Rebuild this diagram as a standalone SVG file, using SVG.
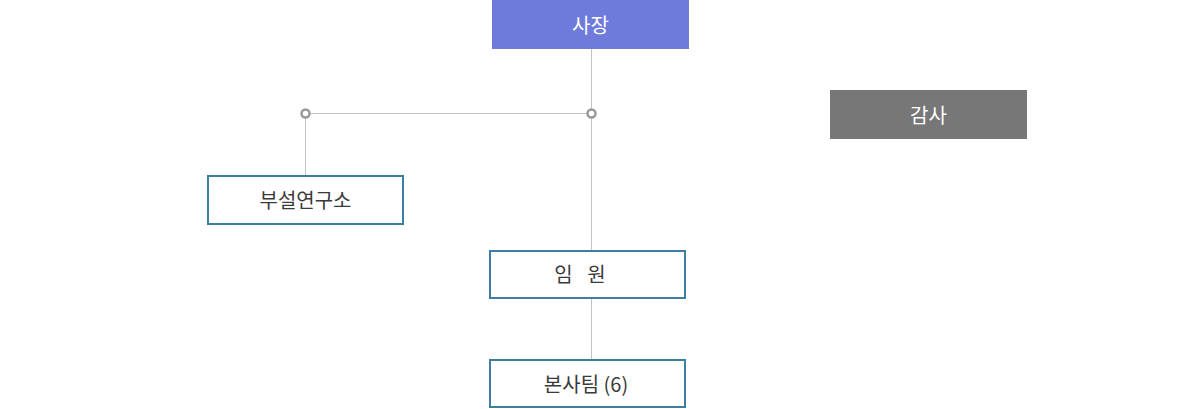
<svg xmlns="http://www.w3.org/2000/svg" width="1180" height="409" viewBox="0 0 1180 409">
<style>
.box{fill:#fff;stroke:#3d7fa1;stroke-width:2}
.t{font-family:"Noto Sans CJK KR","Noto Sans",sans-serif;font-size:20px;text-anchor:middle;dominant-baseline:central}
.dark{fill:#3a3a3a}
.light{fill:#fff}
.ln{stroke:#c4c4c4;stroke-width:1;fill:none}
.dot{fill:#fff;stroke:#999;stroke-width:2.5}
</style>
<rect width="1180" height="409" fill="#fff"/>
<g id="connectors">
<line class="ln" x1="591.5" y1="49" x2="591.5" y2="250"/>
<line class="ln" x1="591.5" y1="298" x2="591.5" y2="359"/>
<line class="ln" x1="305" y1="113.5" x2="591" y2="113.5"/>
<line class="ln" x1="305.5" y1="113" x2="305.5" y2="176"/>
<circle class="dot" cx="305.5" cy="113.5" r="4"/>
<circle class="dot" cx="591.5" cy="113.5" r="4"/>
</g>
<g id="ceo">
<rect x="492" y="0" width="197" height="49" fill="#6f7bdb"/>
<text class="t light" x="590.5" y="24">사장</text>
</g>
<g id="audit">
<rect x="830" y="90" width="197" height="49" fill="#777777"/>
<text class="t light" x="928.5" y="114">감사</text>
</g>
<g id="lab">
<rect class="box" x="208" y="176" width="195" height="48"/>
<text class="t dark" x="305.5" y="199.5">부설연구소</text>
</g>
<g id="exec">
<rect class="box" x="490" y="251" width="195" height="47"/>
<text class="t dark" x="580" y="273.5" word-spacing="10">임 원</text>
</g>
<g id="hq">
<rect class="box" x="490" y="360" width="195" height="47"/>
<text class="t dark" x="586" y="383">본사팀 (6)</text>
</g>
</svg>
